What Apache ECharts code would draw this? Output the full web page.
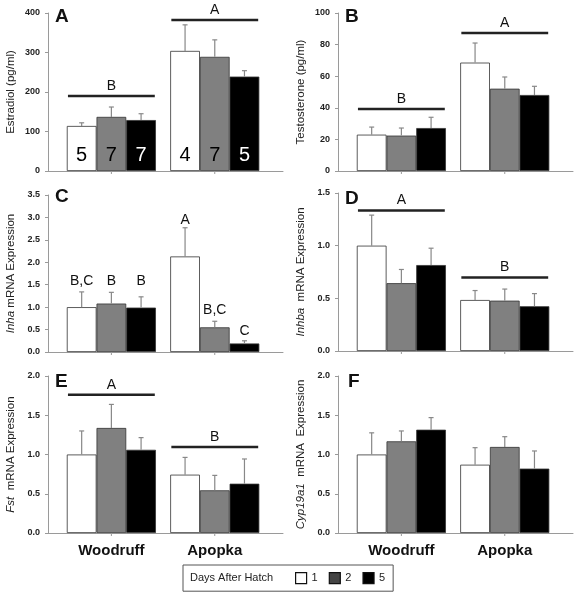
<!DOCTYPE html>
<html>
<head>
<meta charset="utf-8">
<script src="https://cdn.jsdelivr.net/npm/echarts@6/dist/echarts.min.js"></script>
<style>html,body{margin:0;padding:0;background:#fff}#c{width:580px;height:599px}</style>
</head>
<body>
<div id="c"></div>
<script>
// ---------- data ----------
const sites = ['Woodruff', 'Apopka'];
const days = ['1', '2', '5'];

// [day][site]
const estradiolMean = [[114, 304], [137, 289], [129, 239]];
const estradiolErr  = [[8, 66], [25, 43], [16, 15]];
const estradiolN    = [[5, 4], [7, 7], [7, 5]];
const estradiolLetters = ['B', 'A'];
const estradiolLetterY = [190, 382];

const testosteroneMean = [[23, 68.6], [22.4, 52.1], [27.2, 48.1]];
const testosteroneErr  = [[4.8, 12.4], [4.8, 7.4], [6.8, 5.5]];
const testosteroneLetters = ['B', 'A'];
const testosteroneLetterY = [39.2, 87.3];

const inhaMean = [[1.0, 2.13], [1.08, 0.55], [0.99, 0.19]];
const inhaErr  = [[0.34, 0.64], [0.25, 0.135], [0.24, 0.06]];
const inhaBarLetters  = [['B,C', 'A'], ['B', 'B,C'], ['B', 'C']];
const inhaBarLetterY  = [[1.415, 2.79], [1.415, 0.78], [1.415, 0.32]];

const inhbaMean = [[1.0, 0.484], [0.644, 0.478], [0.816, 0.425]];
const inhbaErr  = [[0.29, 0.09], [0.13, 0.11], [0.16, 0.12]];
const inhbaLetters = ['A', 'B'];
const inhbaLetterY = [1.334, 0.697];

const fstMean = [[1.0, 0.743], [1.338, 0.544], [1.06, 0.628]];
const fstErr  = [[0.3, 0.22], [0.3, 0.19], [0.155, 0.315]];
const fstLetters = ['A', 'B'];
const fstLetterY = [1.762, 1.096];

const cypMean = [[1.0, 0.87], [1.168, 1.096], [1.316, 0.82]];
const cypErr  = [[0.276, 0.217], [0.132, 0.131], [0.154, 0.225]];

// ---------- layout / style ----------
const FONT = "'Liberation Sans', Arial, sans-serif";
const dayColors = ['#ffffff', '#808080', '#000000'];
const legendColors = ['#ffffff', '#444444', '#000000'];
const X_MIN = -0.613, X_MAX = 1.66;
const BAR_W = 29.7;
const GROUP_HALF = 0.42;
const AXIS_COLOR = '#9a9a9a';

const panels = [
  {tag:'A', left:48,  top:13,  h:158, max:400, interval:100, dec:0, name:'Estradiol (pg/ml)',
   mean:estradiolMean, err:estradiolErr, gl:estradiolLetters, gy:estradiolLetterY, n:estradiolN, tagPos:[55,7]},
  {tag:'B', left:338, top:13,  h:158, max:100, interval:20,  dec:0, name:'Testosterone (pg/ml)',
   mean:testosteroneMean, err:testosteroneErr, gl:testosteroneLetters, gy:testosteroneLetterY, tagPos:[345,7]},
  {tag:'C', left:48,  top:195, h:157, max:3.5, interval:0.5, dec:1, name:'{i|Inha} mRNA Expression',
   mean:inhaMean, err:inhaErr, bl:inhaBarLetters, by:inhaBarLetterY, tagPos:[55,187]},
  {tag:'D', left:338, top:193, h:158, max:1.5, interval:0.5, dec:1, name:'{i|Inhba}  mRNA Expression',
   mean:inhbaMean, err:inhbaErr, gl:inhbaLetters, gy:inhbaLetterY, tagPos:[345,189]},
  {tag:'E', left:48,  top:376, h:157, max:2.0, interval:0.5, dec:1, name:'{i|Fst}  mRNA Expression',
   mean:fstMean, err:fstErr, gl:fstLetters, gy:fstLetterY, tagPos:[55,372], xlab:true},
  {tag:'F', left:338, top:376, h:157, max:2.0, interval:0.5, dec:1, name:'{i|Cyp19a1}  mRNA  Expression',
   mean:cypMean, err:cypErr, tagPos:[348,372], xlab:true}
];

const grids = [], xAxes = [], yAxes = [], series = [], titles = [];

panels.forEach((p, i) => {
  grids.push({left: p.left, top: p.top, width: 235, height: p.h});
  xAxes.push({gridIndex: i, type: 'value', min: X_MIN, max: X_MAX,
    axisLine: {show: true, onZero: false, lineStyle: {color: AXIS_COLOR, width: 1}},
    axisTick: {show: false}, axisLabel: {show: false}, splitLine: {show: false}});
  yAxes.push({gridIndex: i, type: 'value', min: 0, max: p.max, interval: p.interval,
    name: p.name, nameLocation: 'middle', nameGap: 31,
    nameTextStyle: {fontFamily: FONT, fontSize: 11.5, color: '#222',
      rich: {i: {fontFamily: FONT, fontSize: 11.5, fontStyle: 'italic', color: '#222'}}},
    axisLine: {show: true, onZero: false, lineStyle: {color: AXIS_COLOR, width: 1}},
    axisTick: {show: true, length: 3, lineStyle: {color: AXIS_COLOR}},
    axisLabel: {fontFamily: FONT, fontSize: 9, fontWeight: 'bold', color: '#222', margin: 8,
      formatter: v => v.toFixed(p.dec)},
    splitLine: {show: false}});
  titles.push({text: p.tag, left: p.tagPos[0], top: p.tagPos[1], padding: 0,
    textStyle: {fontFamily: FONT, fontSize: 19, fontWeight: 'bold', color: '#111'}});

  // bars
  days.forEach((d, k) => {
    series.push({type: 'bar', name: d, xAxisIndex: i, yAxisIndex: i, barWidth: BAR_W, barGap: '0%',
      silent: true, animation: false,
      data: sites.map((s, j) => [j, p.mean[k][j]]),
      itemStyle: {color: dayColors[k], borderColor: '#333', borderWidth: 0.8}});
  });

  // error bars
  const errData = [];
  days.forEach((d, k) => sites.forEach((s, j) => errData.push([j, p.mean[k][j], p.err[k][j], k])));
  series.push({type: 'custom', xAxisIndex: i, yAxisIndex: i, z: 5, silent: true, animation: false,
    data: errData,
    renderItem: (params, api) => {
      const x = api.value(0), m = api.value(1), e = api.value(2), k = api.value(3);
      const p0 = api.coord([x, m]), p1 = api.coord([x, m + e]);
      const cx = p0[0] + (k - 1) * BAR_W;
      return {type: 'group', children: [
        {type: 'line', shape: {x1: cx, y1: p0[1], x2: cx, y2: p1[1]}, style: {stroke: '#888', lineWidth: 1.2}},
        {type: 'line', shape: {x1: cx - 2.5, y1: p1[1], x2: cx + 2.5, y2: p1[1]}, style: {stroke: '#888', lineWidth: 1.2}}
      ]};
    }});

  // x ticks at group centres
  series.push({type: 'custom', xAxisIndex: i, yAxisIndex: i, z: 4, silent: true, animation: false,
    data: sites.map((s, j) => [j, 0]),
    renderItem: (params, api) => {
      const c = api.coord([api.value(0), 0]);
      return {type: 'line', shape: {x1: c[0], y1: c[1], x2: c[0], y2: c[1] + 3}, style: {stroke: AXIS_COLOR, lineWidth: 1}};
    }});

  // group significance lines + letters
  if (p.gl) {
    series.push({type: 'custom', xAxisIndex: i, yAxisIndex: i, z: 6, silent: true, animation: false,
      data: sites.map((s, j) => [j, p.gy[j]]),
      renderItem: (params, api) => {
        const j = api.value(0), y = api.value(1);
        const a = api.coord([j - GROUP_HALF, y]), b = api.coord([j + GROUP_HALF, y]);
        return {type: 'group', children: [
          {type: 'line', shape: {x1: a[0], y1: a[1], x2: b[0], y2: b[1]}, style: {stroke: '#222', lineWidth: 2.5}},
          {type: 'text', x: (a[0] + b[0]) / 2, y: a[1] - 3,
            style: {text: p.gl[params.dataIndex], fontFamily: FONT, fontSize: 14, fill: '#111', align: 'center', verticalAlign: 'bottom'}}
        ]};
      }});
  }

  // per-bar letters
  if (p.bl) {
    const d2 = [];
    days.forEach((d, k) => sites.forEach((s, j) => d2.push([j, p.by[k][j], k, p.bl[k][j]])));
    series.push({type: 'custom', xAxisIndex: i, yAxisIndex: i, z: 6, silent: true, animation: false,
      data: d2.map(r => r.slice(0, 3)),
      renderItem: (params, api) => {
        const c = api.coord([api.value(0), api.value(1)]);
        return {type: 'text', x: c[0] + (api.value(2) - 1) * BAR_W, y: c[1],
          style: {text: d2[params.dataIndex][3], fontFamily: FONT, fontSize: 14, fill: '#111', align: 'center', verticalAlign: 'bottom'}};
      }});
  }

  // sample sizes
  if (p.n) {
    const d3 = [];
    days.forEach((d, k) => sites.forEach((s, j) => d3.push([j, 0, k, p.n[k][j]])));
    series.push({type: 'custom', xAxisIndex: i, yAxisIndex: i, z: 6, silent: true, animation: false,
      data: d3,
      renderItem: (params, api) => {
        const c = api.coord([api.value(0), 0]);
        const k = api.value(2);
        return {type: 'text', x: c[0] + (k - 1) * BAR_W, y: c[1] - 16,
          style: {text: String(api.value(3)), fontFamily: FONT, fontSize: 20, fill: k === 2 ? '#fff' : '#000', align: 'center', verticalAlign: 'middle'}};
      }});
  }

  // site labels
  if (p.xlab) {
    series.push({type: 'custom', xAxisIndex: i, yAxisIndex: i, z: 6, silent: true, animation: false, clip: false,
      data: sites.map((s, j) => [j, 0]),
      renderItem: (params, api) => {
        const c = api.coord([api.value(0), 0]);
        return {type: 'text', x: c[0], y: c[1] + 18,
          style: {text: sites[params.dataIndex], fontFamily: FONT, fontSize: 15, fontWeight: 'bold', fill: '#111', align: 'center', verticalAlign: 'middle'}};
      }});
  }
});

const chart = echarts.init(document.getElementById('c'), null, {renderer: 'canvas'});
chart.setOption({
  animation: false,
  backgroundColor: '#fff',
  title: titles,
  grid: grids,
  xAxis: xAxes,
  yAxis: yAxes,
  legend: {
    left: 183, top: 565, padding: [7, 8, 7, 112], borderColor: '#555', borderWidth: 1,
    itemWidth: 11, itemHeight: 11, itemGap: 11, selectedMode: false, icon: 'rect',
    textStyle: {fontFamily: FONT, fontSize: 11, color: '#222'},
    data: days.map((d, k) => ({name: d, itemStyle: {color: legendColors[k], borderColor: '#111', borderWidth: 1.2}}))
  },
  graphic: [{type: 'text', left: 190, top: 572,
    style: {text: 'Days After Hatch', fontFamily: FONT, fontSize: 11, fill: '#222'}}],
  series: series
});
</script>
</body>
</html>
